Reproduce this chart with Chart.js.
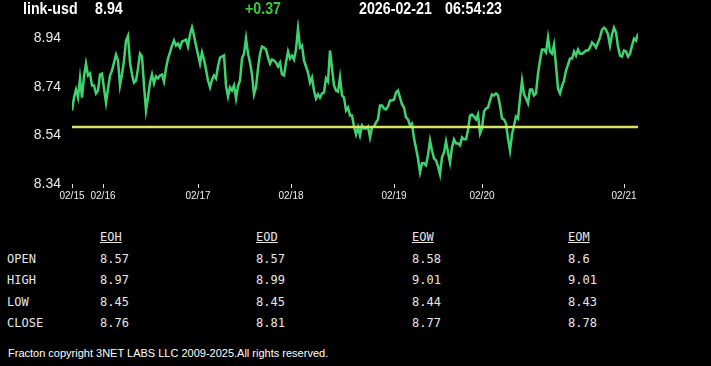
<!DOCTYPE html>
<html>
<head>
<meta charset="utf-8">
<script src="https://cdn.jsdelivr.net/npm/chart.js@4.4.1/dist/chart.umd.min.js"></script>
<style>
  body { margin: 0; background: #000; width: 711px; height: 366px; overflow: hidden; position: relative; }
  #grafico { position: absolute; left: 0; top: 0; }
  .cab { position: absolute; top: -1px; line-height: 20px; font-family: "Liberation Sans", Arial, sans-serif; font-weight: bold; font-size: 16px; color: #fff; white-space: nowrap; transform: scaleX(0.89); transform-origin: 0 0; }
  #tabla { position: absolute; left: 0; top: 227px; font-family: "DejaVu Sans Mono", monospace; font-size: 12px; color: #e6e6e6; }
  .fila { position: relative; height: 21.5px; line-height: 21.5px; }
  .fila span { position: absolute; white-space: nowrap; }
  .tit { text-decoration: underline; }
  #copy { position: absolute; left: 8px; top: 345px; line-height: 16px; font-family: "Liberation Sans", Arial, sans-serif; font-size: 11px; color: #fff; white-space: nowrap; }
</style>
</head>
<body>
<canvas id="grafico" width="711" height="210"></canvas>
<div class="cab" style="left:23px">link-usd</div>
<div class="cab" style="left:95px">8.94</div>
<div class="cab" style="left:245px;color:#3cc83c">+0.37</div>
<div class="cab" style="left:359px">2026-02-21</div>
<div class="cab" style="left:445px">06:54:23</div>
<div id="tabla"></div>
<div id="copy">Fracton copyright 3NET LABS LLC 2009-2025.All rights reserved.</div>
<script>
// Precio link-usd (un punto por muestra)
const precios = [
  8.643, 8.696, 8.729, 8.696, 8.775, 8.696, 8.783, 8.836, 8.787, 8.795,
  8.746, 8.746, 8.713, 8.725, 8.791, 8.795, 8.733, 8.676, 8.733, 8.787,
  8.807, 8.840, 8.873, 8.849, 8.746, 8.791, 8.849, 8.930, 8.950, 8.840,
  8.791, 8.758, 8.766, 8.816, 8.877, 8.865, 8.746, 8.643, 8.696, 8.758,
  8.791, 8.754, 8.783, 8.775, 8.787, 8.791, 8.762, 8.816, 8.857, 8.882,
  8.910, 8.931, 8.910, 8.918, 8.902, 8.927, 8.931, 8.935, 8.906, 8.956,
  8.985, 8.952, 8.910, 8.873, 8.836, 8.882, 8.853, 8.812, 8.766, 8.738,
  8.770, 8.787, 8.775, 8.824, 8.861, 8.865, 8.870, 8.746, 8.701, 8.738,
  8.725, 8.746, 8.692, 8.742, 8.766, 8.857, 8.877, 8.939, 8.877, 8.840,
  8.791, 8.709, 8.738, 8.816, 8.877, 8.906, 8.902, 8.894, 8.861, 8.836,
  8.853, 8.849, 8.840, 8.824, 8.840, 8.791, 8.787, 8.840, 8.886, 8.857,
  8.869, 8.853, 8.894, 8.980, 8.902, 8.910, 8.849, 8.824, 8.799, 8.758,
  8.779, 8.725, 8.692, 8.709, 8.696, 8.713, 8.717, 8.775, 8.762, 8.890,
  8.816, 8.746, 8.725, 8.721, 8.779, 8.705, 8.696, 8.643, 8.655, 8.622,
  8.622, 8.577, 8.544, 8.573, 8.540, 8.581, 8.569, 8.569, 8.577, 8.532,
  8.573, 8.577, 8.593, 8.606, 8.663, 8.663, 8.651, 8.647, 8.659, 8.684,
  8.684, 8.688, 8.717, 8.725, 8.696, 8.668, 8.655, 8.614, 8.606, 8.581,
  8.589, 8.528, 8.487, 8.445, 8.388, 8.425, 8.425, 8.417, 8.458, 8.519,
  8.478, 8.445, 8.437, 8.413, 8.380, 8.450, 8.470, 8.515, 8.470, 8.429,
  8.491, 8.524, 8.507, 8.507, 8.499, 8.532, 8.524, 8.524, 8.561, 8.622,
  8.626, 8.618, 8.606, 8.626, 8.548, 8.569, 8.639, 8.651, 8.655, 8.684,
  8.709, 8.705, 8.713, 8.705, 8.663, 8.610, 8.606, 8.589, 8.528, 8.478,
  8.544, 8.581, 8.618, 8.610, 8.692, 8.766, 8.709, 8.692, 8.672, 8.729,
  8.729, 8.705, 8.713, 8.795, 8.849, 8.894, 8.894, 8.882, 8.944, 8.886,
  8.877, 8.914, 8.828, 8.733, 8.713, 8.742, 8.766, 8.807, 8.832, 8.857,
  8.857, 8.886, 8.869, 8.894, 8.877, 8.877, 8.882, 8.890, 8.890, 8.902,
  8.923, 8.914, 8.902, 8.923, 8.944, 8.976, 8.984, 8.976, 8.956, 8.910,
  8.956, 8.984, 8.964, 8.906, 8.869, 8.865, 8.890, 8.886, 8.865, 8.877,
  8.910, 8.939, 8.931, 8.960
];
const precioApertura = 8.575; // línea amarilla

// Eje X: posición (índice de muestra) donde empieza cada día
const posicionesDias = [0, 15.5, 63, 109.5, 161, 205, 276];
const etiquetasDias = ['02/15', '02/16', '02/17', '02/18', '02/19', '02/20', '02/21'];
// Eje Y
const ticksY = [8.34, 8.54, 8.74, 8.94];
const minY = 8.34;
const maxY = 9.018;

// Tabla de resumen
const columnas = ['EOH', 'EOD', 'EOW', 'EOM'];
const filas = ['OPEN', 'HIGH', 'LOW', 'CLOSE'];
const valoresOpen = ['8.57', '8.57', '8.58', '8.6'];
const valoresHigh = ['8.97', '8.99', '9.01', '9.01'];
const valoresLow = ['8.45', '8.45', '8.44', '8.43'];
const valoresClose = ['8.76', '8.81', '8.77', '8.78'];

const puntos = precios.map((v, i) => ({ x: i, y: v }));
const ultimo = precios.length - 1;

const ctx = document.getElementById('grafico').getContext('2d');
new Chart(ctx, {
    type: 'line',
    data: {
        datasets: [
            {
                label: 'Apertura',
                data: [{ x: 0, y: precioApertura }, { x: ultimo, y: precioApertura }],
                borderColor: '#d9e65c',
                borderWidth: 2.5,
                pointRadius: 0
            },
            {
                label: 'Precio',
                data: puntos,
                borderColor: '#3fd370',
                borderWidth: 2.5,
                pointRadius: 0,
                tension: 0
            }
        ]
    },
    options: {
        responsive: false,
        animation: false,
        devicePixelRatio: 1,
        layout: { padding: { top: 19, right: 73, left: 0, bottom: 0 } },
        plugins: {
            legend: { display: false },
            tooltip: { enabled: false }
        },
        scales: {
            x: {
                type: 'linear',
                min: 0,
                max: ultimo,
                afterBuildTicks: (eje) => { eje.ticks = posicionesDias.map(v => ({ value: v })); },
                afterFit: (eje) => { eje.height = 26; },
                border: { display: false },
                grid: { drawOnChartArea: false, drawTicks: true, tickLength: 4, color: '#ddd' },
                ticks: {
                    autoSkip: false,
                    maxRotation: 0,
                    padding: 2,
                    color: '#eee',
                    font: { family: 'Liberation Sans, Arial, sans-serif', size: 10 },
                    callback: (valor, i) => etiquetasDias[i]
                }
            },
            y: {
                min: minY,
                max: maxY,
                afterBuildTicks: (eje) => { eje.ticks = ticksY.map(v => ({ value: v })); },
                afterFit: (eje) => { eje.width = 72; },
                border: { display: false },
                grid: { display: false, drawTicks: false },
                ticks: {
                    padding: 11,
                    color: '#e8e8e8',
                    font: { family: 'Liberation Sans, Arial, sans-serif', size: 14 },
                    callback: (valor) => valor.toFixed(2)
                }
            }
        }
    }
});

// Construir tabla
const xCol = [100, 256, 412, 568];
const tabla = document.getElementById('tabla');
function agregarFila(nombre, celdas, clase) {
    const div = document.createElement('div');
    div.className = 'fila';
    let html = '<span style="left:7px">' + nombre + '</span>';
    celdas.forEach((c, i) => {
        html += '<span class="' + (clase || '') + '" style="left:' + xCol[i] + 'px">' + c + '</span>';
    });
    div.innerHTML = html;
    tabla.appendChild(div);
}
agregarFila('', columnas, 'tit');
agregarFila(filas[0], valoresOpen);
agregarFila(filas[1], valoresHigh);
agregarFila(filas[2], valoresLow);
agregarFila(filas[3], valoresClose);
</script>
</body>
</html>
